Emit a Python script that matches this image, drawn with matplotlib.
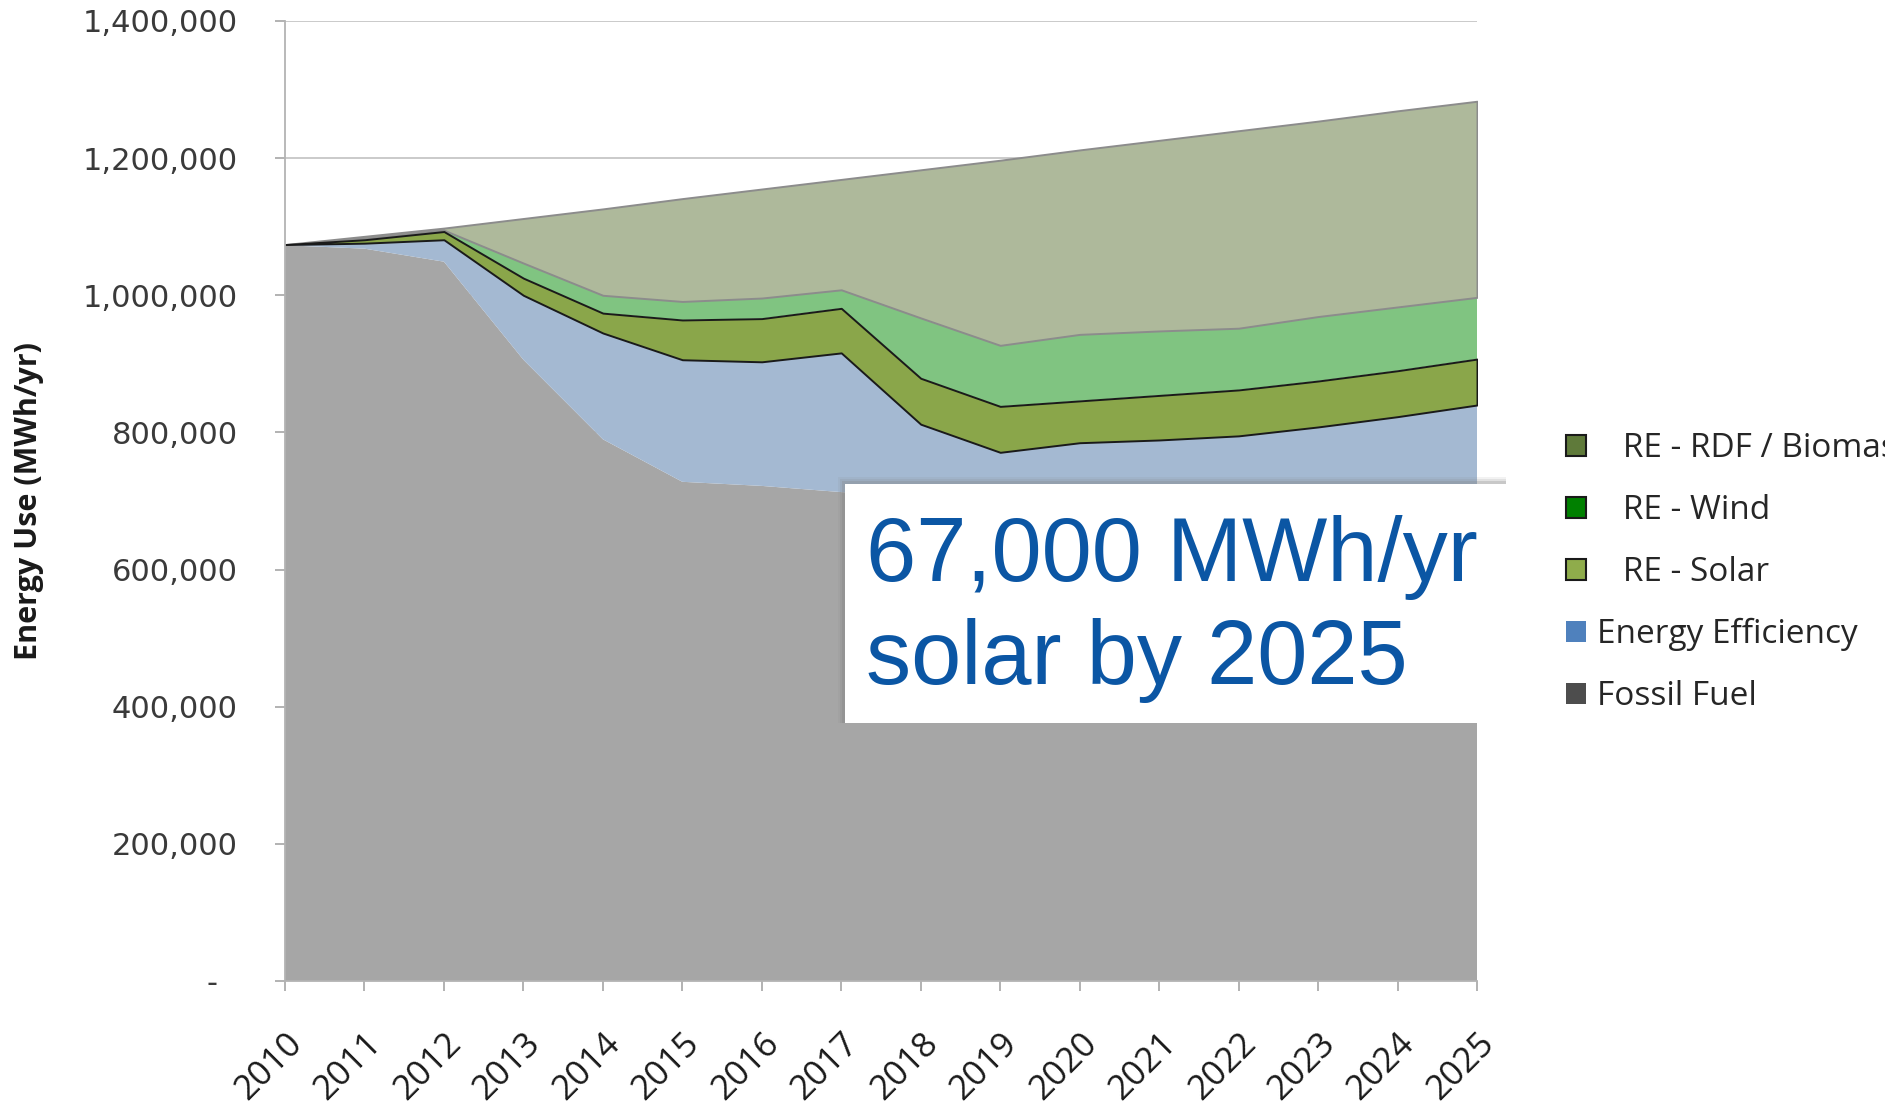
import numpy as np
import matplotlib
matplotlib.use('Agg')
import matplotlib.pyplot as plt
import matplotlib.transforms as mtransforms
from matplotlib.patches import Patch, Rectangle
from matplotlib.ticker import FuncFormatter

# --- Data (MWh/yr; stack order bottom -> top) ---
years = np.arange(2010, 2026)
fossil_fuel = np.array([1073, 1068, 1049, 906, 790, 728, 722, 713, 705, 698, 692, 686, 680, 675, 670, 665]) * 1000
energy_eff = np.array([1, 8, 32, 94, 155, 178, 181, 203, 107, 73, 93, 103, 115, 133, 153, 175]) * 1000
re_solar = np.array([0, 5, 12, 25, 29, 58, 63, 65, 67, 67, 61, 65, 67, 67, 67, 67]) * 1000
re_wind = np.array([0, 2, 2, 22, 26, 27, 30, 27, 88, 89, 97, 94, 90, 94, 93, 90]) * 1000
re_rdf = np.array([0, 3, 3, 65, 126, 150, 159, 161, 216, 270, 269, 278, 288, 285, 286, 286]) * 1000

legend_labels = ["RE - RDF / Biomass", "RE - Wind", "RE - Solar", "Energy Efficiency", "Fossil Fuel"]
callout = "67,000 MWh/yr\nsolar by 2025"

# --- Colours ---
area_colors = ['#a6a6a6', '#a4b9d2', '#8aa64a', '#80c481', '#aeb99b']
legend_face = ['#5f7a3a', '#008000', '#8fac4b', '#4f81bd', '#4d4d4d']
legend_edge = ['#1a1a1a', '#1a1a1a', '#1a1a1a', 'none', 'none']

W, H = 1885, 1116
fig = plt.figure(figsize=(W / 100, H / 100), dpi=100)
ax = fig.add_axes([285 / W, 1 - 981 / H, 1192 / W, 960 / H])

polys = ax.stackplot(years, fossil_fuel, energy_eff, re_solar, re_wind, re_rdf,
                     colors=area_colors, linewidth=0)
# solar band outlined in black, sits above its neighbours
polys[2].set_edgecolor('#1a1a1a')
polys[2].set_linewidth(1.4)
polys[2].set_zorder(1.5)
polys[4].set_edgecolor('#8c8c8c')
polys[4].set_linewidth(1.4)

ax.set_xlim(years[0], years[-1])
ax.set_ylim(0, 1400000)
ax.set_yticks(np.arange(0, 1400001, 200000))
ax.yaxis.set_major_formatter(FuncFormatter(lambda v, p: f"{v:,.0f}" if v else "-  "))
ax.set_xticks(years)
ax.set_xticklabels([str(y) for y in years], rotation=45, ha='right', va='top',
                   rotation_mode='anchor', fontsize=25, family='Open Sans', color='#1a1a1a')
shift = mtransforms.ScaledTranslation(7 / 100, 0, fig.dpi_scale_trans)
for lab in ax.get_xticklabels():
    lab.set_transform(lab.get_transform() + shift)

ax.tick_params(axis='y', length=7, width=1.2, color='#a6a6a6', pad=27,
               labelsize=22, labelcolor='#3a3a3a')
ax.tick_params(axis='x', length=7, width=1.2, color='#a6a6a6', pad=26)

for s in ['top', 'right']:
    ax.spines[s].set_visible(False)
for s in ['left', 'bottom']:
    ax.spines[s].set_color('#b3b3b3')
    ax.spines[s].set_linewidth(1.3)

ax.yaxis.grid(True, color='#c6c6c6', linewidth=1.3)
ax.set_axisbelow(True)

ax.set_ylabel('Energy Use (MWh/yr)', fontsize=22, fontweight='bold',
              family='Open Sans', color='#1a1a1a')
ax.yaxis.set_label_coords(-0.202, 0.5)

# --- Callout box ---
bx, by, bw, bh = 845, 484, 661, 239
for off, a in [(7, 0.10), (5, 0.15), (3, 0.25)]:
    fig.patches.append(Rectangle(((bx - off) / W, 1 - (by + bh) / H), (bw + off) / W, (bh + off) / H,
                                 transform=fig.transFigure, facecolor='#808080', alpha=a,
                                 edgecolor='none', zorder=2))
fig.patches.append(Rectangle((bx / W, 1 - (by + bh) / H), bw / W, bh / H,
                             transform=fig.transFigure, facecolor='white',
                             edgecolor='none', zorder=2.1))
fig.text(866 / W, 1 - 515 / H, callout, family='Liberation Sans', fontsize=65,
         color='#0b56a4', ha='left', va='top', linespacing=1.27, zorder=3)

# --- Legend (runs off the right edge, as in the original slide) ---
handles = [Patch(facecolor=f, edgecolor=e, linewidth=1.5) for f, e in zip(legend_face, legend_edge)]
labels = ['   ' + l if i < 3 else l for i, l in enumerate(legend_labels)]
fig.legend(handles, labels, loc='upper left', bbox_to_anchor=(1566 / W, 1 - 432 / H),
           frameon=False, prop={'family': 'Open Sans', 'size': 24}, labelcolor='#262626',
           handlelength=0.6, handleheight=0.6, handletextpad=0.33, labelspacing=0.87,
           borderpad=0, borderaxespad=0)

fig.savefig('out.png', dpi=100)
